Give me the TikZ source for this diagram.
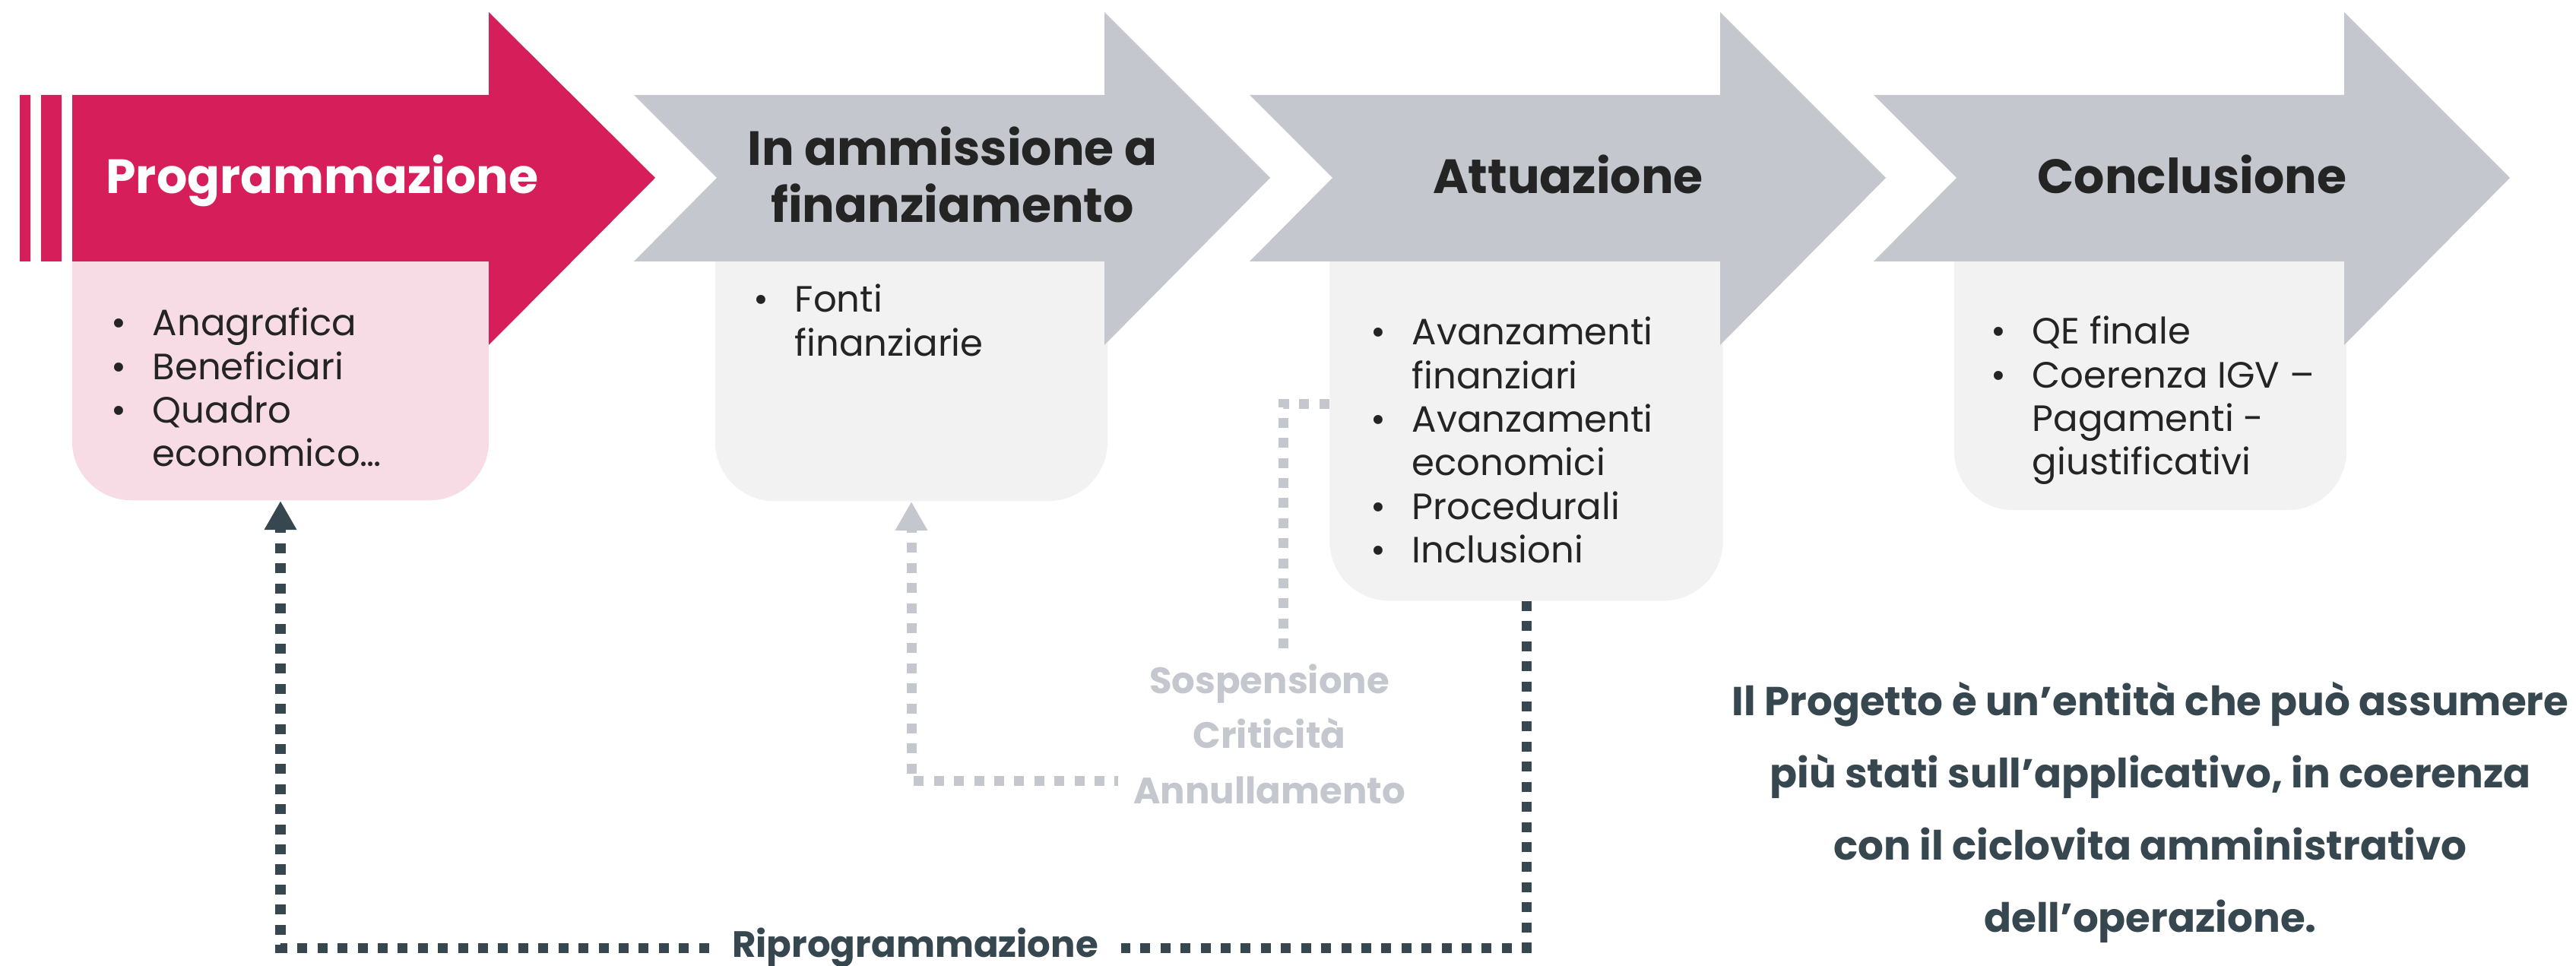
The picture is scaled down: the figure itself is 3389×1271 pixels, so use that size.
\documentclass[tikz,border=0pt]{standalone}
\usepackage{fontspec}
\setmainfont{Poppins}
\usepackage{tikz}
\usetikzlibrary{arrows.meta}

\definecolor{progred}{HTML}{D61F5A}
\definecolor{progpink}{HTML}{F8DCE5}
\definecolor{stagegray}{HTML}{C4C8CE}
\definecolor{boxgray}{HTML}{F2F2F2}
\definecolor{inkdark}{HTML}{242424}
\definecolor{slate}{HTML}{37474F}

\newcommand{\itemrows}[1]{\begin{tabular}[t]{@{}p{0.54cm}@{}l@{}}#1\end{tabular}}

\begin{document}
\begin{tikzpicture}[x=0.01cm,y=-0.01cm]
  \tikzstyle{every node}=[inner sep=0pt]
  \tikzstyle{panel}=[rounded corners=0.78cm,anchor=south]
  \tikzstyle{stage title}=[font=\fontsize{18}{21.6}\selectfont\bfseries,align=center,anchor=base]
  \tikzstyle{item list}=[font=\fontsize{13.7}{16.3}\selectfont,text=inkdark,anchor=base west]
  \tikzstyle{state label}=[font=\fontsize{13.7}{20.6}\selectfont\bfseries,align=center]
  \tikzstyle{back loop}=[line width=0.13cm,dash pattern=on 0.13cm off 0.134cm]
  \tikzstyle{loop tip}=[-{Triangle[width=0.4cm,length=0.38cm]}]

  \useasboundingbox (0,0) rectangle (3389,1271);

  % panels under the stage arrows
  \node[panel,fill=progpink,minimum width=5.48cm,minimum height=4.59cm] (prog)  at (369,659) {};
  \node[panel,fill=boxgray,minimum width=5.16cm,minimum height=4.6cm]   (fin)   at (1199,660) {};
  \node[panel,fill=boxgray,minimum width=5.17cm,minimum height=5.18cm]  (att)   at (2008,791) {};
  \node[panel,fill=boxgray,minimum width=5.16cm,minimum height=4.72cm]  (concl) at (2829,672) {};

  % stage arrows
  \fill[progred] (26,125) rectangle (40,344) (54,125) rectangle (81,344);
  \fill[progred] (95,125) -- (643,125) -- (643,16) -- (862,234) -- (643,454) -- (643,344) -- (95,344) -- cycle;
  \fill[stagegray] (834,125) -- (1453,125) -- (1453,16) -- (1671,234) -- (1453,454) -- (1453,344) -- (834,344) -- (943,234) -- cycle;
  \fill[stagegray] (1644,125) -- (2263,125) -- (2263,16) -- (2481,234) -- (2263,454) -- (2263,344) -- (1644,344) -- (1753,234) -- cycle;
  \fill[stagegray] (2465,125) -- (3084,125) -- (3084,16) -- (3302,234) -- (3084,454) -- (3084,344) -- (2465,344) -- (2574,234) -- cycle;

  \node[stage title,text=white]   (t_prog)  at (424,255)  {Programmazione};
  \node[stage title,text=inkdark] (t_fin)   at (1253,293) {In ammissione a\\finanziamento};
  \node[stage title,text=inkdark] (t_att)   at (2063,255) {Attuazione};
  \node[stage title,text=inkdark] (t_concl) at (2884,255) {Conclusione};

  \node[item list] (l_prog) at (146,442) {\itemrows{\textbullet & Anagrafica\\ \textbullet & Beneficiari\\ \textbullet & Quadro\\ & economico…}};
  \node[item list] (l_fin) at (991,411) {\itemrows{\textbullet & Fonti\\ & finanziarie}};
  \node[item list] (l_att) at (1803,454) {\itemrows{\textbullet & Avanzamenti\\ & finanziari\\ \textbullet & Avanzamenti\\ & economici\\ \textbullet & Procedurali\\ \textbullet & Inclusioni}};
  \node[item list] (l_concl) at (2619,453) {\itemrows{\textbullet & QE finale\\ \textbullet & Coerenza IGV –\\ & Pagamenti -\\ & giustificativi}};

  % loops back
  \coordinate (turn) at (1688,1028);
  \draw[back loop,stagegray,loop tip] (att.west) -| (turn) -| (fin.south);
  \node[state label,text=stagegray,fill=white,inner xsep=0.2cm,inner ysep=0.2cm,anchor=north] (crit) at (1670,853) {Sospensione\\Criticità\\Annullamento};

  \node[state label,text=slate,inner xsep=0.3cm,anchor=base] (ripro) at (1204,1260) {Riprogrammazione};
  \draw[back loop,slate] (att.south) |- (ripro.east);
  \draw[back loop,slate,loop tip] (ripro.west) -| (prog.south);

  \node[font=\fontsize{15.1}{27}\selectfont\bfseries,text=slate,align=center,anchor=north] (note) at (2829,897)
    {Il Progetto è un’entità che può assumere\\più stati sull’applicativo, in coerenza\\con il ciclovita amministrativo\\dell’operazione.};
\end{tikzpicture}
\end{document}
